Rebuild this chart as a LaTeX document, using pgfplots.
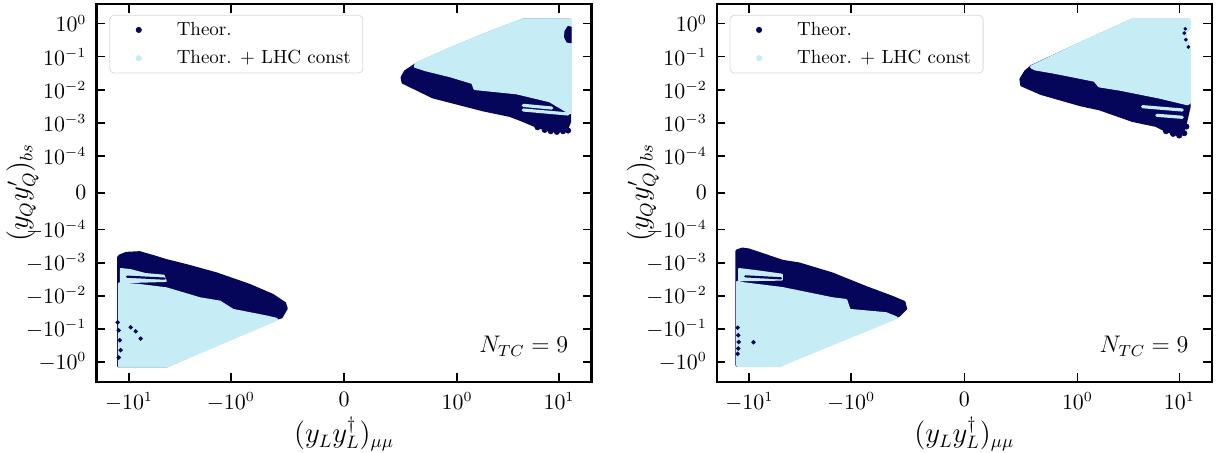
\documentclass[border=0pt]{standalone}
\usepackage{pgfplots}
\pgfplotsset{compat=1.18}
\definecolor{navyc}{RGB}{5,5,90}
\definecolor{lightc}{RGB}{198,236,245}
\pgfplotsset{
  panel/.style={
    width=247.5pt, height=188.85pt, scale only axis,
    xmin=-2.43, xmax=2.43, ymin=-5.7, ymax=5.7,
    xtick={-2.111,-1.111,0,1.111,2.111},
    xticklabels={$-10^{1}$,$-10^{0}$,$0$,$10^{0}$,$10^{1}$},
    ytick={-5.111,-4.111,-3.111,-2.111,-1.111,0,1.111,2.111,3.111,4.111,5.111},
    yticklabels={$-10^{0}$,$-10^{-1}$,$-10^{-2}$,$-10^{-3}$,$-10^{-4}$,$0$,$10^{-4}$,$10^{-3}$,$10^{-2}$,$10^{-1}$,$10^{0}$},
    xtick pos=both, ytick pos=both,
    xticklabel pos=lower, yticklabel pos=left,
    tick align=inside, major tick length=4.3pt,
    tick style={black, line width=0.8pt},
    axis line style={line width=1.1pt},
    ticklabel style={font=\fontsize{10.5}{12}\selectfont},
    xticklabel style={yshift=-2pt},
    yticklabel style={xshift=-1.5pt},
    xlabel={$(y_Ly_L^{\dagger})_{\mu\mu}$},
    ylabel={$(y_Qy^{\prime}_Q)_{bs}$},
    label style={font=\fontsize{13.5}{15}\selectfont},
    xlabel style={at={(axis description cs:0.5,-0.138)}, anchor=center},
    ylabel style={at={(axis description cs:-0.1495,0.5)}, anchor=center},
    legend style={at={(axis description cs:0.026,0.971)}, anchor=north west,
      draw=black!15, rounded corners=2pt, fill=white,
      font=\fontsize{9.5}{11}\selectfont, inner xsep=4pt, inner ysep=1.75pt,
      row sep=3pt, nodes={inner ysep=1.5pt, inner xsep=2pt}},
    legend cell align=left,
  },
  navyfill/.style={forget plot, fill=navyc, draw=navyc, line width=1.3pt, line join=round},
  lightfill/.style={forget plot, fill=lightc, draw=lightc, line width=1.6pt, line join=round},
  navydots/.style={forget plot, only marks, mark=*, mark size=1.3pt, color=navyc},
  lightline/.style={forget plot, draw=lightc, line width=1.6pt, line cap=round},
  navyline/.style={forget plot, draw=navyc, line width=1.1pt, line cap=round},
  dotimage/.style={legend image code/.code={\path[draw=none,fill=none] (0pt,-2pt) rectangle (27.5pt,2pt); \fill[#1] (10.5pt,0pt) circle (1.3pt);}},
}
\begin{document}
\begin{tikzpicture}
\path[use as bounding box] (-48.25pt,-35.65pt) rectangle (562.75pt,190.85pt);
% ---------------- left panel ----------------
\begin{axis}[panel]
\addlegendimage{dotimage=navyc}
\addlegendentry{Theor.}
\addlegendimage{dotimage=lightc}
\addlegendentry{Theor. + LHC const}
% upper-right cluster
\addplot[navyfill] coordinates {(0.568,3.48) (0.60,3.66) (0.712,3.89) (1.039,4.34) (1.432,4.84) (1.759,5.22) (2.218,5.22) (2.218,2.15) (2.19,1.94) (2.10,1.86) (2.022,1.88) (1.894,2.0) (1.756,2.18) (1.629,2.33) (1.363,2.50) (0.872,2.89) (0.578,3.33)} -- cycle;
\addplot[lightfill] coordinates {(0.70,3.82) (0.712,3.89) (1.039,4.34) (1.432,4.84) (1.759,5.22) (2.218,5.22) (2.218,2.42) (2.022,2.78) (1.697,3.02) (1.285,3.15) (1.265,3.33) (1.039,3.54) (0.80,3.72)} -- cycle;
\addplot[lightline] coordinates {(1.76,2.64) (2.04,2.56)};
\addplot[lightline] coordinates {(1.76,2.50) (2.20,2.38)};
\addplot[navyfill, line width=0.5pt] coordinates {(2.20,5.02) (2.17,4.88) (2.165,4.70) (2.19,4.55) (2.23,4.53) (2.23,5.0)} -- cycle;
\addplot[navydots] coordinates {(1.90,1.98) (1.97,1.90) (2.03,1.86) (2.09,1.84) (2.15,1.86) (2.20,1.88)};
% lower-left cluster
\addplot[navyfill] coordinates {(-2.215,-1.95) (-2.202,-1.90) (-2.137,-1.82) (-2.006,-1.80) (-1.927,-1.87) (-1.859,-1.93) (-1.744,-2.04) (-1.547,-2.19) (-1.252,-2.44) (-0.925,-2.79) (-0.699,-3.09) (-0.582,-3.33) (-0.565,-3.49) (-0.614,-3.75) (-0.699,-3.83) (-1.744,-5.23) (-2.215,-5.23)} -- cycle;
\addplot[lightfill] coordinates {(-2.205,-5.23) (-1.744,-5.23) (-0.663,-3.82) (-0.761,-3.75) (-1.092,-3.55) (-1.22,-3.30) (-1.417,-3.20) (-1.744,-2.90) (-2.006,-2.80) (-2.205,-2.75)} -- cycle;
\addplot[lightfill, line width=1pt] coordinates {(-2.19,-2.30) (-2.10,-2.33) (-1.95,-2.45) (-1.77,-2.50) (-1.75,-2.66) (-2.19,-2.70)} -- cycle;
\addplot[navyline] coordinates {(-2.13,-2.53) (-1.76,-2.59)};
\addplot[navydots, mark size=0.9pt] coordinates {(-2.222,-3.91) (-2.212,-4.15) (-2.202,-4.45) (-2.193,-4.75) (-2.212,-4.97) (-2.094,-4.06) (-2.045,-4.18) (-1.996,-4.40)};
\node[anchor=east, font=\fontsize{12}{14}\selectfont] at (axis description cs:0.967,0.093) {$N_{TC}=9$};
\end{axis}
% ---------------- right panel ----------------
\begin{axis}[panel, at={(310.15pt,0pt)}, anchor=south west]
\addlegendimage{dotimage=navyc}
\addlegendentry{Theor.}
\addlegendimage{dotimage=lightc}
\addlegendentry{Theor. + LHC const}
% upper-right cluster
\addplot[navyfill] coordinates {(0.554,3.43) (0.60,3.66) (0.66,3.82) (1.143,4.51) (1.647,5.21) (2.21,5.21) (2.21,5.0) (2.16,4.84) (2.18,4.6) (2.21,4.28) (2.21,2.6) (2.19,2.33) (2.16,1.94) (2.11,1.73) (1.98,1.88) (1.88,2.03) (1.65,2.18) (1.326,2.53) (1.143,2.65) (0.756,2.99) (0.562,3.25)} -- cycle;
\addplot[lightfill] coordinates {(0.66,3.80) (1.143,4.51) (1.647,5.21) (2.21,5.21) (2.21,5.0) (2.16,4.84) (2.18,4.6) (2.21,4.28) (2.21,2.73) (2.19,2.69) (1.92,2.89) (1.53,3.13) (1.326,3.23) (1.28,3.40) (0.872,3.65) (0.70,3.74)} -- cycle;
\addplot[lightline] coordinates {(1.75,2.60) (2.14,2.50)};
\addplot[lightline] coordinates {(1.89,2.34) (2.14,2.28)};
\addplot[navydots] coordinates {(1.98,1.86) (2.05,1.78) (2.11,1.73) (2.16,1.80) (2.12,1.92) (2.18,2.0)};
\addplot[navydots, mark size=0.7pt] coordinates {(2.17,4.95) (2.16,4.82) (2.175,4.62) (2.2,4.40)};
% lower-left cluster
\addplot[navyfill] coordinates {(-2.234,-1.75) (-2.179,-1.69) (-2.113,-1.72) (-1.949,-1.89) (-1.786,-2.06) (-1.622,-2.14) (-1.298,-2.44) (-0.967,-2.85) (-0.705,-3.15) (-0.59,-3.30) (-0.574,-3.50) (-0.64,-3.70) (-0.705,-3.77) (-1.818,-5.21) (-2.234,-5.21)} -- cycle;
\addplot[lightfill] coordinates {(-2.225,-5.21) (-1.818,-5.21) (-0.672,-3.77) (-0.77,-3.65) (-1.13,-3.55) (-1.163,-3.25) (-1.295,-3.20) (-1.789,-2.89) (-2.182,-2.74) (-2.225,-2.70)} -- cycle;
\addplot[lightfill, line width=1pt] coordinates {(-2.21,-2.30) (-2.05,-2.36) (-1.79,-2.47) (-1.79,-2.62) (-2.21,-2.64)} -- cycle;
\addplot[navyline] coordinates {(-2.15,-2.52) (-1.80,-2.58)};
\addplot[navydots, mark size=0.9pt] coordinates {(-2.225,-4.07) (-2.22,-4.30) (-2.215,-4.50) (-2.22,-4.70) (-2.225,-4.86) (-2.07,-4.51)};
\node[anchor=east, font=\fontsize{12}{14}\selectfont] at (axis description cs:0.967,0.093) {$N_{TC}=9$};
\end{axis}
\end{tikzpicture}
\end{document}
